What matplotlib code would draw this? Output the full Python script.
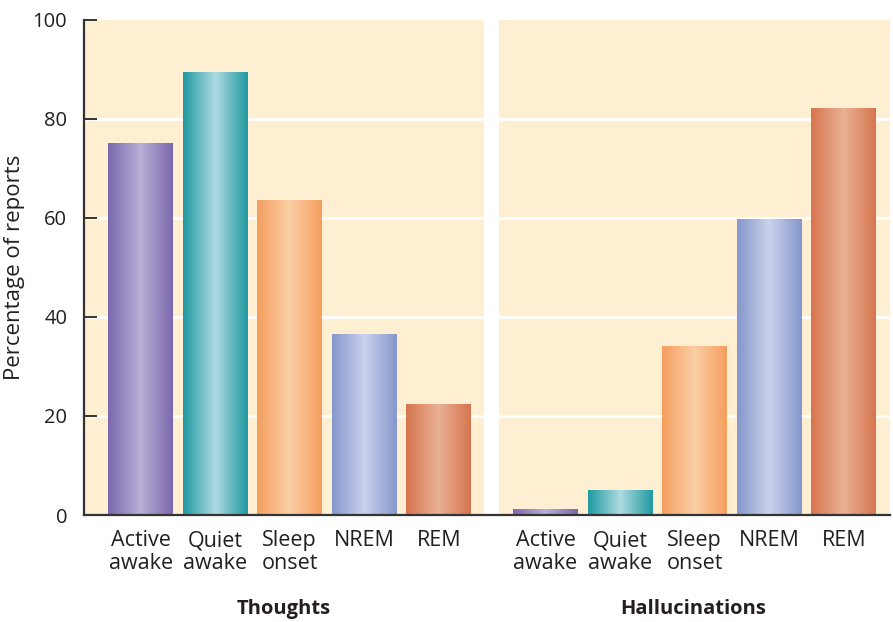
import numpy as np
import matplotlib.pyplot as plt
from matplotlib.colors import to_rgb
from matplotlib.transforms import blended_transform_factory

plt.rcParams['font.family'] = ['Open Sans', 'DejaVu Sans']

stages = ['Active\nawake', 'Quiet\nawake', 'Sleep\nonset', 'NREM', 'REM']
thoughts = [75, 89.3, 63.6, 36.4, 22.4]
hallucinations = [1.2, 5.0, 34.0, 59.6, 82.2]
groups = ['Thoughts', 'Hallucinations']

# edge colour / highlight colour of each stage's bar
edge_cols = ['#7A68AE', '#1F9AA1', '#F59E5E', '#8497CC', '#D6754F']
mid_cols = ['#B9AFD6', '#AEDBE0', '#FBCFA6', '#CBD2EB', '#EAB195']

bg = '#FEEFD3'
width = 0.87
gap = 1.43
x1 = np.arange(5)
x2 = x1 + 4 + gap

fig = plt.figure(figsize=(8.93, 6.22), dpi=100)
ax = fig.add_axes([0.094, 0.172, 0.9026, 0.796])

xmin, xmax = -0.76, x2[-1] + 0.62
ax.axvspan(xmin, 4.61, color=bg, zorder=0, lw=0)
ax.axvspan(x2[0] - 0.63, xmax, color=bg, zorder=0, lw=0)
for y in [20, 40, 60, 80]:
    ax.axhline(y, color='white', lw=2, zorder=1)


def grad_bar(x, h, c_edge, c_mid):
    n = 256
    t = np.abs(np.linspace(-1, 1, n))[None, :, None]
    e = np.array(to_rgb(c_edge))
    m = np.array(to_rgb(c_mid))
    img = m * (1 - t) + e * t
    ax.imshow(img, extent=[x - width / 2, x + width / 2, 0, h],
              aspect='auto', zorder=2, interpolation='bilinear')


for xs, vals in [(x1, thoughts), (x2, hallucinations)]:
    for x, v, ce, cm in zip(xs, vals, edge_cols, mid_cols):
        grad_bar(x, v, ce, cm)

ax.set_xlim(xmin, xmax)
ax.set_ylim(0, 100)

for s in ['top', 'right']:
    ax.spines[s].set_visible(False)
for s in ['left', 'bottom']:
    ax.spines[s].set_color('#333333')
    ax.spines[s].set_linewidth(1.6)
    ax.spines[s].set_zorder(5)

ax.set_yticks([0, 20, 40, 60, 80, 100])
ax.tick_params(axis='y', direction='in', length=9, width=1.4, color='#333333',
               labelsize=14.5, labelcolor='#231F20', pad=12)
ax.set_xticks(np.concatenate([x1, x2]))
ax.set_xticklabels(stages * 2, fontsize=15.5, color='#231F20', linespacing=1.12)
ax.tick_params(axis='x', length=0, pad=11)
ax.set_ylabel('Percentage of reports', fontsize=16, color='#231F20')
ax.yaxis.set_label_coords(-0.073, 0.5)

tr = blended_transform_factory(ax.transData, fig.transFigure)
ax.text(x1.mean() - 0.08, 1 - 609 / 622, groups[0], transform=tr, ha='center',
        va='center', fontsize=14.5, fontweight='bold', color='#231F20')
ax.text(x2.mean() - 0.02, 1 - 609 / 622, groups[1], transform=tr, ha='center',
        va='center', fontsize=14.5, fontweight='bold', color='#231F20')

fig.savefig('out.png', dpi=100, facecolor='white')
